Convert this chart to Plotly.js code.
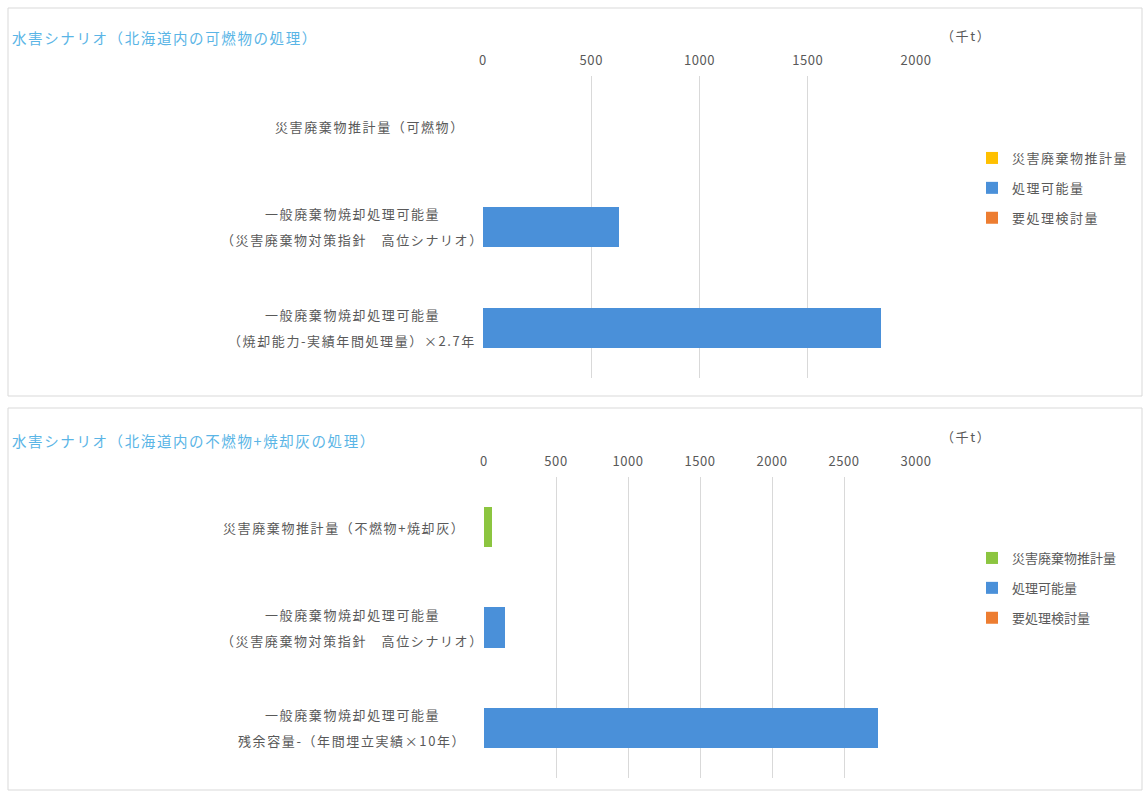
<!DOCTYPE html>
<html>
<head>
<meta charset="utf-8">
<script src="https://cdn.plot.ly/plotly-3.0.1.min.js"></script>
<style>
html,body{margin:0;padding:0;background:#fff;}
#chart{width:1143px;height:792px;}
.annotation-text{letter-spacing:1.6px;}
.legendtext{letter-spacing:1.5px;}
.xtick text, .x2tick text{letter-spacing:0.6px;}
</style>
</head>
<body>
<div id="chart"></div>
<script>
// ---- data ----
const title1 = '水害シナリオ（北海道内の可燃物の処理）';
const title2 = '水害シナリオ（北海道内の不燃物+焼却灰の処理）';
const unitLabel = '（千t）';
const categories1 = [
  '災害廃棄物推計量（可燃物）',
  '一般廃棄物焼却処理可能量<br>（災害廃棄物対策指針　高位シナリオ）',
  '一般廃棄物焼却処理可能量<br>（焼却能力-実績年間処理量）×2.7年'
];
const categories2 = [
  '災害廃棄物推計量（不燃物+焼却灰）',
  '一般廃棄物焼却処理可能量<br>（災害廃棄物対策指針　高位シナリオ）',
  '一般廃棄物焼却処理可能量<br>残余容量-（年間埋立実績×10年）'
];
const seriesNames = ['災害廃棄物推計量', '処理可能量', '要処理検討量'];
const estimate1 = [0, 0, 0];
const capacity1 = [0, 628, 1838];
const required1 = [0, 0, 0];
const estimate2 = [55, 0, 0];
const capacity2 = [0, 145, 2735];
const required2 = [0, 0, 0];
const xTicks1 = [0, 500, 1000, 1500, 2000];
const xTicks2 = [0, 500, 1000, 1500, 2000, 2500, 3000];

// ---- layout helpers ----
const W = 1143, H = 792;
const px = v => v / W;
const py = v => 1 - v / H;
const grey = '#595959';
const fam = '"Noto Sans CJK JP", "Noto Sans", sans-serif';
const font = {family: fam, size: 13, color: grey};

function mk(x, name, color, xa, ya, leg) {
  return {type: 'bar', orientation: 'h', x: x, y: ya === 'y' ? categories1 : categories2,
    name: name, marker: {color: color}, xaxis: xa, yaxis: ya, legend: leg,
    legendgroup: leg + name, hoverinfo: 'x+name'};
}
const data = [
  mk(estimate1, seriesNames[0], '#ffc000', 'x', 'y', 'legend'),
  mk(capacity1, seriesNames[1], '#4a90d9', 'x', 'y', 'legend'),
  mk(required1, seriesNames[2], '#ed7d31', 'x', 'y', 'legend'),
  mk(estimate2, seriesNames[0], '#8cc540', 'x2', 'y2', 'legend2'),
  mk(capacity2, seriesNames[1], '#4a90d9', 'x2', 'y2', 'legend2'),
  mk(required2, seriesNames[2], '#ed7d31', 'x2', 'y2', 'legend2')
];

const xCommon = {side: 'top', showgrid: true, gridcolor: '#d9d9d9', gridwidth: 1,
  zeroline: false, showline: false, ticks: '', tickfont: font, fixedrange: true, ticklabelstandoff: 7};
const yCommon = {showticklabels: false, showgrid: false, zeroline: false, ticks: '',
  showline: false, autorange: 'reversed', type: 'category', fixedrange: true};

const annotations = [];
const labelFont = {family: fam, size: 13, color: grey};
function addCats(cats, ya) {
  cats.forEach(c => {
    const lines = c.split('<br>');
    if (lines.length === 1) {
      annotations.push({text: c, xref: 'paper', yref: ya, x: px(467), y: c,
        xanchor: 'right', yanchor: 'middle', showarrow: false, font: labelFont});
    } else {
      lines.forEach((ln, i) => annotations.push({text: ln, xref: 'paper', yref: ya, x: px(352), y: c,
        yshift: (i === 0 ? 13 : -13), xanchor: 'center', yanchor: 'middle', showarrow: false, font: labelFont}));
    }
  });
}
addCats(categories1, 'y');
addCats(categories2, 'y2');
const titleFont = {family: fam, size: 14.5, color: '#5ab5e6'};
annotations.push({text: title1, xref: 'paper', yref: 'paper', x: px(10), y: py(37), xanchor: 'left', yanchor: 'middle',
  showarrow: false, font: titleFont});
annotations.push({text: title2, xref: 'paper', yref: 'paper', x: px(10), y: py(440), xanchor: 'left', yanchor: 'middle',
  showarrow: false, font: titleFont});
annotations.push({text: unitLabel, xref: 'paper', yref: 'paper', x: px(966), y: py(35), xanchor: 'center', yanchor: 'middle',
  showarrow: false, font: font});
annotations.push({text: unitLabel, xref: 'paper', yref: 'paper', x: px(966), y: py(436), xanchor: 'center', yanchor: 'middle',
  showarrow: false, font: font});

const legCommon = {bgcolor: 'rgba(0,0,0,0)', font: {family: fam, size: 13, color: grey},
  itemwidth: 30, tracegroupgap: 10, xanchor: 'left', yanchor: 'top', traceorder: 'grouped'};

const layout = {
  width: W, height: H, margin: {l: 0, r: 0, t: 0, b: 0},
  paper_bgcolor: '#fff', plot_bgcolor: '#fff', font: font,
  barmode: 'stack', bargap: 0.6, showlegend: true,
  xaxis: Object.assign({}, xCommon, {domain: [px(483), px(916)], anchor: 'y', range: [0, 2000], tickvals: xTicks1}),
  yaxis: Object.assign({}, yCommon, {domain: [py(378), py(76)], anchor: 'x'}),
  xaxis2: Object.assign({}, xCommon, {domain: [px(484), px(916)], anchor: 'y2', range: [0, 3000], tickvals: xTicks2}),
  yaxis2: Object.assign({}, yCommon, {domain: [py(778), py(477)], anchor: 'x2'}),
  legend: Object.assign({}, legCommon, {x: px(972), y: py(143)}),
  legend2: Object.assign({}, legCommon, {x: px(972), y: py(543)}),
  annotations: annotations,
  shapes: [
    {type: 'rect', xref: 'paper', yref: 'paper', x0: px(8), x1: px(1142), y0: py(396), y1: py(8), line: {color: '#d9d9d9', width: 1}},
    {type: 'rect', xref: 'paper', yref: 'paper', x0: px(8), x1: px(1142), y0: py(790), y1: py(408), line: {color: '#d9d9d9', width: 1}}
  ]
};

Plotly.newPlot('chart', data, layout, {displayModeBar: false, staticPlot: true});
</script>
</body>
</html>
